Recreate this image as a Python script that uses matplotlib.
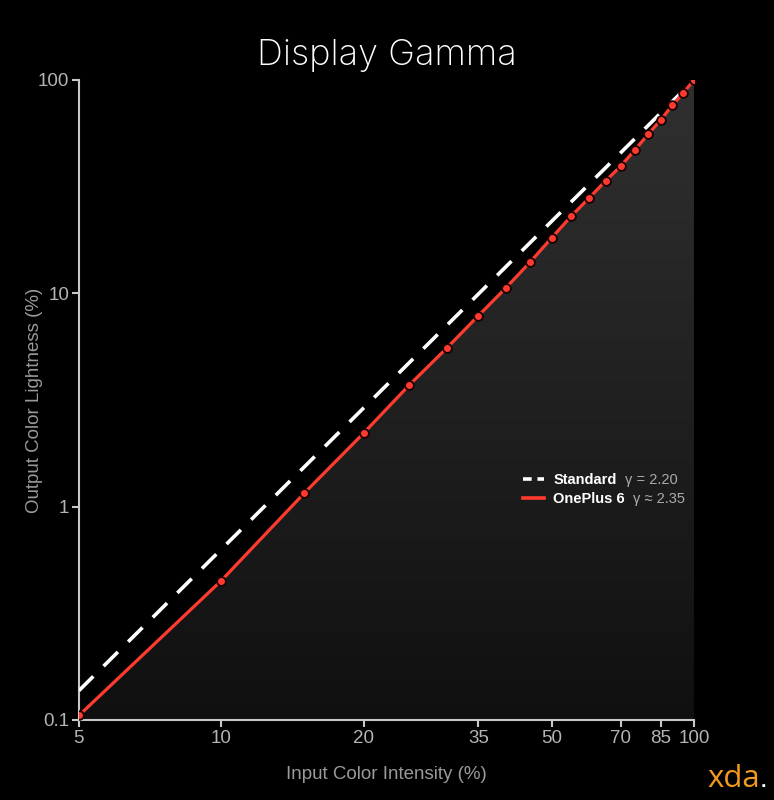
import numpy as np
import matplotlib.pyplot as plt
from matplotlib.colors import LinearSegmentedColormap
from matplotlib.lines import Line2D

# input intensity (%) and measured output lightness (%)
intensity = [5, 10, 15, 20, 25, 30, 35, 40, 45, 50, 55, 60, 65, 70, 75, 80, 85, 90, 95, 100]
lightness = [0.105, 0.450, 1.16, 2.21, 3.72, 5.54, 7.86, 10.6, 14.0, 18.2,
             23.0, 28.0, 33.6, 39.5, 47.0, 55.7, 64.9, 76.1, 87.2, 100]
std_gamma = 2.20
xticks = [5, 10, 20, 35, 50, 70, 85, 100]
yticks = [0.1, 1, 10, 100]
series = ["Standard", "OnePlus 6"]
gammas = ["γ = 2.20", "γ ≈ 2.35"]

RED = "#ff3b30"
plt.rcParams["font.family"] = ["Liberation Sans", "DejaVu Sans"]

fig = plt.figure(figsize=(7.74, 8.0), dpi=100, facecolor="black")
ax = fig.add_axes([0.102, 0.1, 0.7946, 0.8])
ax.set_facecolor("black")
ax.set_xscale("log")
ax.set_yscale("log")
ax.set_xlim(5, 100)
ax.set_ylim(0.1, 100)

# standard gamma reference
xs = np.linspace(5, 100, 200)
ax.plot(xs, 100 * (xs / 100) ** std_gamma, color="white", lw=2.6,
        dashes=(5.6, 4.0), zorder=3)

# gradient fill below the measured curve
poly = ax.fill_between(intensity, lightness, 0.1, color="none", zorder=1)
cmap = LinearSegmentedColormap.from_list("g", ["#101010", "#303030"])
grad = np.linspace(0, 1, 256).reshape(-1, 1)
im = ax.imshow(grad, cmap=cmap, aspect="auto", origin="lower",
               extent=(0, 1, 0, 1), transform=ax.transAxes, zorder=1)
im.set_clip_path(poly.get_paths()[0], transform=ax.transData)

ax.plot(intensity, lightness, color=RED, lw=2.3, marker="o", ms=6.3,
        mfc=RED, mec="#1a0000", mew=1.3, zorder=4)

for s in ["top", "right"]:
    ax.spines[s].set_visible(False)
for s in ["left", "bottom"]:
    ax.spines[s].set_color("#c8c8c8")
    ax.spines[s].set_linewidth(1.5)

ax.set_xticks(xticks)
ax.set_xticklabels([str(t) for t in xticks])
ax.set_yticks(yticks)
ax.set_yticklabels(["0.1", "1", "10", "100"])
ax.minorticks_off()
ax.tick_params(colors="#c8c8c8", labelcolor="#b4b4b4", labelsize=13.5,
               length=5, width=1.5, pad=2)

ax.set_xlabel("Input Color Intensity (%)", color="#9a9a9a", fontsize=13.5, labelpad=14)
ax.set_ylabel("Output Color Lightness (%)", color="#9a9a9a", fontsize=13.5)
ax.yaxis.set_label_coords(-0.058, 0.5)

fig.text(0.5, 0.931, "Display Gamma", color="white", fontsize=26,
         ha="center", va="center", family=["Inter", "DejaVu Sans"], fontweight="light")

handles = [Line2D([], [], color="white", lw=2.6, dashes=(2.4, 1.6)),
           Line2D([], [], color=RED, lw=2.6)]
leg = ax.legend(handles, series, loc="center left", bbox_to_anchor=(0.7, 0.36),
                frameon=False, handlelength=1.5, handletextpad=0.6,
                labelspacing=0.35, prop={"weight": "bold", "size": 10.5})
for txt in leg.get_texts():
    txt.set_color("white")

fig.canvas.draw()
inv = fig.transFigure.inverted()
for txt, g in zip(leg.get_texts(), gammas):
    bb = txt.get_window_extent()
    x0, y0 = inv.transform((bb.x1 + 8, (bb.y0 + bb.y1) / 2))
    fig.text(x0, y0, g, color="#aaaaaa", fontsize=10.5, va="center", ha="left")

fig.text(0.914, 0.016, "xda", color="#f29a1d", fontsize=22.5,
         family=["Open Sans", "DejaVu Sans"], ha="left", va="baseline")
fig.text(0.983, 0.016, ".", color="white", fontsize=14, ha="left", va="baseline",
         fontweight="bold")

fig.savefig("out.png", dpi=100, facecolor="black")
